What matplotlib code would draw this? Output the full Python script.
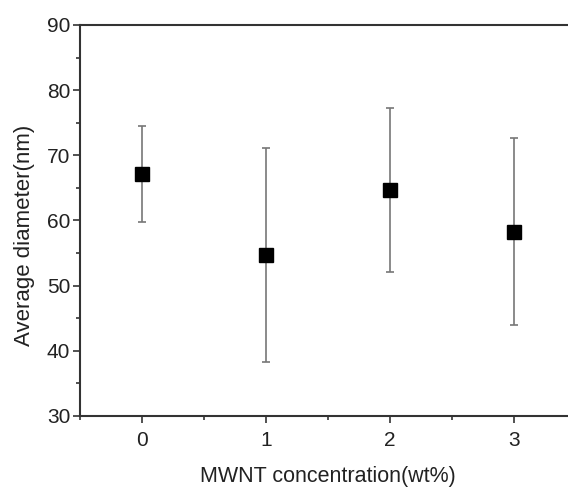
import matplotlib.pyplot as plt
from matplotlib.ticker import MultipleLocator

plt.rcParams['font.family'] = ['Liberation Sans', 'DejaVu Sans']

concentration = [0, 1, 2, 3]
diameter = [67.1, 54.7, 64.7, 58.3]
err_low = [59.8, 38.3, 52.1, 44.0]
err_high = [74.5, 71.1, 77.3, 72.7]

yerr = [[d - lo for d, lo in zip(diameter, err_low)],
        [hi - d for d, hi in zip(diameter, err_high)]]

fig = plt.figure(figsize=(5.68, 4.87), dpi=100)
ax = fig.add_axes([0.1408, 0.1458, 0.8732, 0.8029])

ax.errorbar(concentration, diameter, yerr=yerr, fmt='s', color='black',
            markersize=10, ecolor='#777777', elinewidth=1.2, capsize=3,
            capthick=1.2)

ax.set_xlim(-0.5, 3.5)
ax.set_ylim(30, 90)
ax.xaxis.set_major_locator(MultipleLocator(1))
ax.xaxis.set_minor_locator(MultipleLocator(0.5))
ax.yaxis.set_major_locator(MultipleLocator(10))
ax.yaxis.set_minor_locator(MultipleLocator(5))
ax.tick_params(which='major', direction='out', length=5, width=1.2,
               color='#333333', labelsize=15, pad=2, labelcolor='#222222')
ax.tick_params(axis='x', which='major', pad=6)
ax.tick_params(which='minor', direction='out', length=3, width=1.2,
               color='#333333')
for s in ax.spines.values():
    s.set_color('#333333')
    s.set_linewidth(1.5)

ax.set_xlabel('MWNT concentration(wt%)', fontsize=15.5, labelpad=11.5,
              color='#222222')
ax.set_ylabel('Average diameter(nm)', fontsize=16, color='#222222')
ax.yaxis.set_label_coords(-0.091, 0.462)

fig.savefig('out.png', dpi=100)
